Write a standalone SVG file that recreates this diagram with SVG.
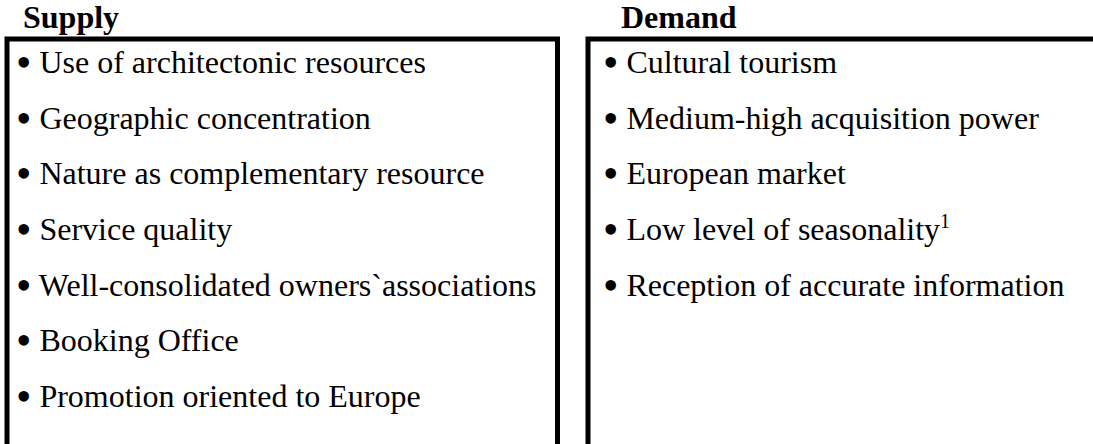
<svg xmlns="http://www.w3.org/2000/svg" width="1093" height="444" viewBox="0 0 1093 444">
<style>
.box{fill:none;stroke:#000;stroke-width:5}
.h{font-family:"Liberation Serif","Times New Roman",serif;font-weight:bold;font-size:32px;fill:#000}
.t{font-family:"Liberation Serif","Times New Roman",serif;font-size:32px;fill:#000}
.b{font-size:44px}
.sup{font-size:20px}
</style>
<rect width="1093" height="444" fill="#fff"/>
<g id="supply">
<text class="h" x="23" y="28">Supply</text>
<path class="box" d="M7,460 V39 H557.5 V460"/>
<text class="t" x="16" y="73"><tspan class="b" dy="4">•</tspan><tspan dy="-4"> Use of architectonic resources</tspan></text>
<text class="t" x="16" y="128.7"><tspan class="b" dy="4">•</tspan><tspan dy="-4"> Geographic concentration</tspan></text>
<text class="t" x="16" y="184.3"><tspan class="b" dy="4">•</tspan><tspan dy="-4"> Nature as complementary resource</tspan></text>
<text class="t" x="16" y="240"><tspan class="b" dy="4">•</tspan><tspan dy="-4"> Service quality</tspan></text>
<text class="t" x="16" y="295.7"><tspan class="b" dy="4">•</tspan><tspan dy="-4"> Well-consolidated owners`associations</tspan></text>
<text class="t" x="16" y="351.3"><tspan class="b" dy="4">•</tspan><tspan dy="-4"> Booking Office</tspan></text>
<text class="t" x="16" y="407"><tspan class="b" dy="4">•</tspan><tspan dy="-4"> Promotion oriented to Europe</tspan></text>
</g>
<g id="demand">
<text class="h" x="621" y="28">Demand</text>
<path class="box" d="M588,460 V39 H1100"/>
<text class="t" x="603" y="73"><tspan class="b" dy="4">•</tspan><tspan dy="-4"> Cultural tourism</tspan></text>
<text class="t" x="603" y="128.7"><tspan class="b" dy="4">•</tspan><tspan dy="-4"> Medium-high acquisition power</tspan></text>
<text class="t" x="603" y="184.3"><tspan class="b" dy="4">•</tspan><tspan dy="-4"> European market</tspan></text>
<text class="t" x="603" y="240"><tspan class="b" dy="4">•</tspan><tspan dy="-4"> Low level of seasonality</tspan><tspan class="sup" dy="-12">1</tspan></text>
<text class="t" x="603" y="295.7"><tspan class="b" dy="4">•</tspan><tspan dy="-4"> Reception of accurate information</tspan></text>
</g>
</svg>
